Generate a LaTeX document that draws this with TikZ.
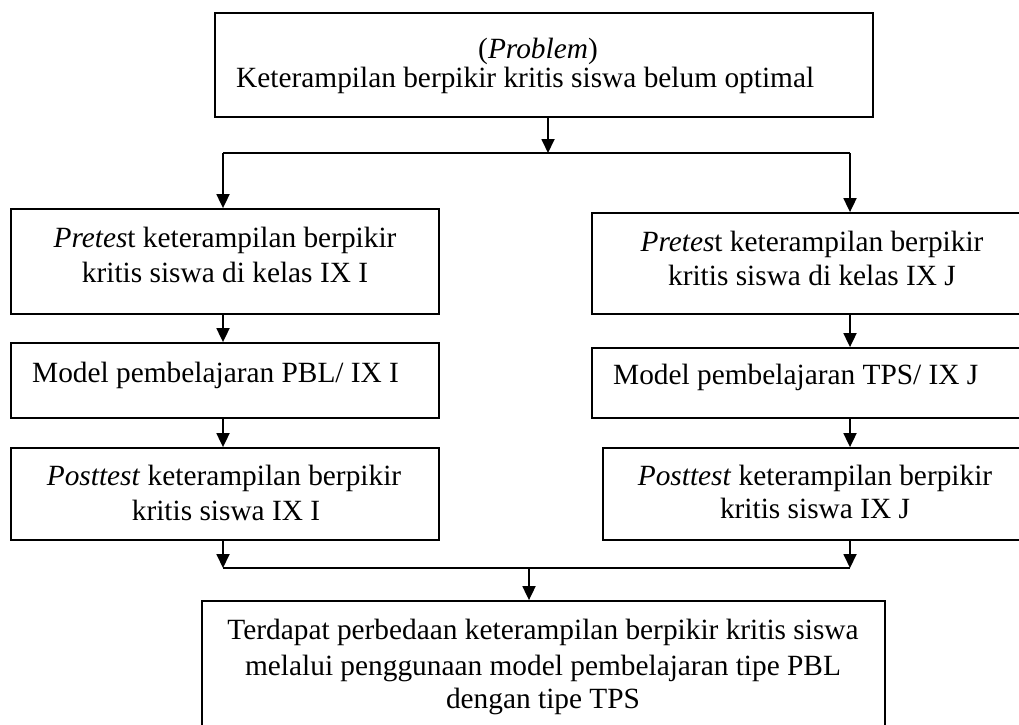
\documentclass[tikz,border=0pt]{standalone}
\usepackage{fontspec}
\setmainfont{Liberation Serif}
\usetikzlibrary{arrows.meta}
\begin{document}
\begin{tikzpicture}[x=1pt,y=-1pt,
  box/.style={draw, line width=1.8pt, rectangle, inner sep=0pt},
  txt/.style={inner sep=0pt, font=\fontsize{29.35}{35}\selectfont},
  arr/.style={line width=1.8pt, -{Triangle[length=14pt,width=13pt]}},
  ln/.style={line width=1.8pt}]
\path[use as bounding box] (0,0) rectangle (1019,724);
\clip (0,0) rectangle (1019,724);
% boxes
\node[box, minimum width=658pt, minimum height=104pt] (top) at (544,65) {};
\node[box, minimum width=428pt, minimum height=105pt] (L1) at (225,261.5) {};
\node[box, minimum width=428pt, minimum height=75pt] (L2) at (225,380.5) {};
\node[box, minimum width=428pt, minimum height=92pt] (L3) at (225,494) {};
\node[box, minimum width=440pt, minimum height=101pt] (R1) at (812,263.5) {};
\node[box, minimum width=440pt, minimum height=70pt] (R2) at (812,383) {};
\node[box, minimum width=424pt, minimum height=92pt] (R3) at (815,494) {};
\node[box, minimum width=683pt, minimum height=139pt] (B) at (543.5,670.5) {};
% texts
\node[txt, anchor=base] (t1) at (538,58) {(\textit{Problem})};
\node[txt, anchor=base west] (t2) at (236,87) {Keterampilan berpikir kritis siswa belum optimal};
\node[txt, anchor=base] (l1a) at (225,247) {\textit{Pretes}t keterampilan berpikir};
\node[txt, anchor=base] (l1b) at (225,282) {kritis siswa di kelas IX I};
\node[txt, anchor=base west] (l2) at (32,382) {Model pembelajaran PBL/ IX I};
\node[txt, anchor=base] (l3a) at (224,485) {\textit{Posttest} keterampilan berpikir};
\node[txt, anchor=base] (l3b) at (226,520) {kritis siswa IX I};
\node[txt, anchor=base] (r1a) at (812,251) {\textit{Pretes}t keterampilan berpikir};
\node[txt, anchor=base] (r1b) at (812,285) {kritis siswa di kelas IX J};
\node[txt, anchor=base west] (r2) at (613,384) {Model pembelajaran TPS/ IX J};
\node[txt, anchor=base] (r3a) at (815,485) {\textit{Posttest} keterampilan berpikir};
\node[txt, anchor=base] (r3b) at (815,518) {kritis siswa IX J};
\node[txt, anchor=base] (b1) at (543,639) {Terdapat perbedaan keterampilan berpikir kritis siswa};
\node[txt, anchor=base] (b2) at (543,675) {melalui penggunaan model pembelajaran tipe PBL};
\node[txt, anchor=base] (b3) at (543,708) {dengan tipe TPS};
% junctions
\coordinate (ja) at (548,153);
\coordinate (jl) at (223,153);
\coordinate (jr) at (850,153);
\coordinate (kl) at (223,568);
\coordinate (kr) at (850,568);
\coordinate (km) at (529,568);
% connectors
\draw[arr] (top.south -| ja) -- (ja);
\draw[ln] (jl) -- (jr);
\draw[arr] (jl) -- (jl |- L1.north);
\draw[arr] (jr) -- (jr |- R1.north);
\draw[arr] (jl |- L1.south) -- (jl |- L2.north);
\draw[arr] (jl |- L2.south) -- (jl |- L3.north);
\draw[arr] (jr |- R1.south) -- (jr |- R2.north);
\draw[arr] (jr |- R2.south) -- (jr |- R3.north);
\draw[arr] (jl |- L3.south) -- (kl);
\draw[arr] (jr |- R3.south) -- (kr);
\draw[ln] (kl) -- (kr);
\draw[arr] (km) -- (km |- B.north);
\end{tikzpicture}
\end{document}
